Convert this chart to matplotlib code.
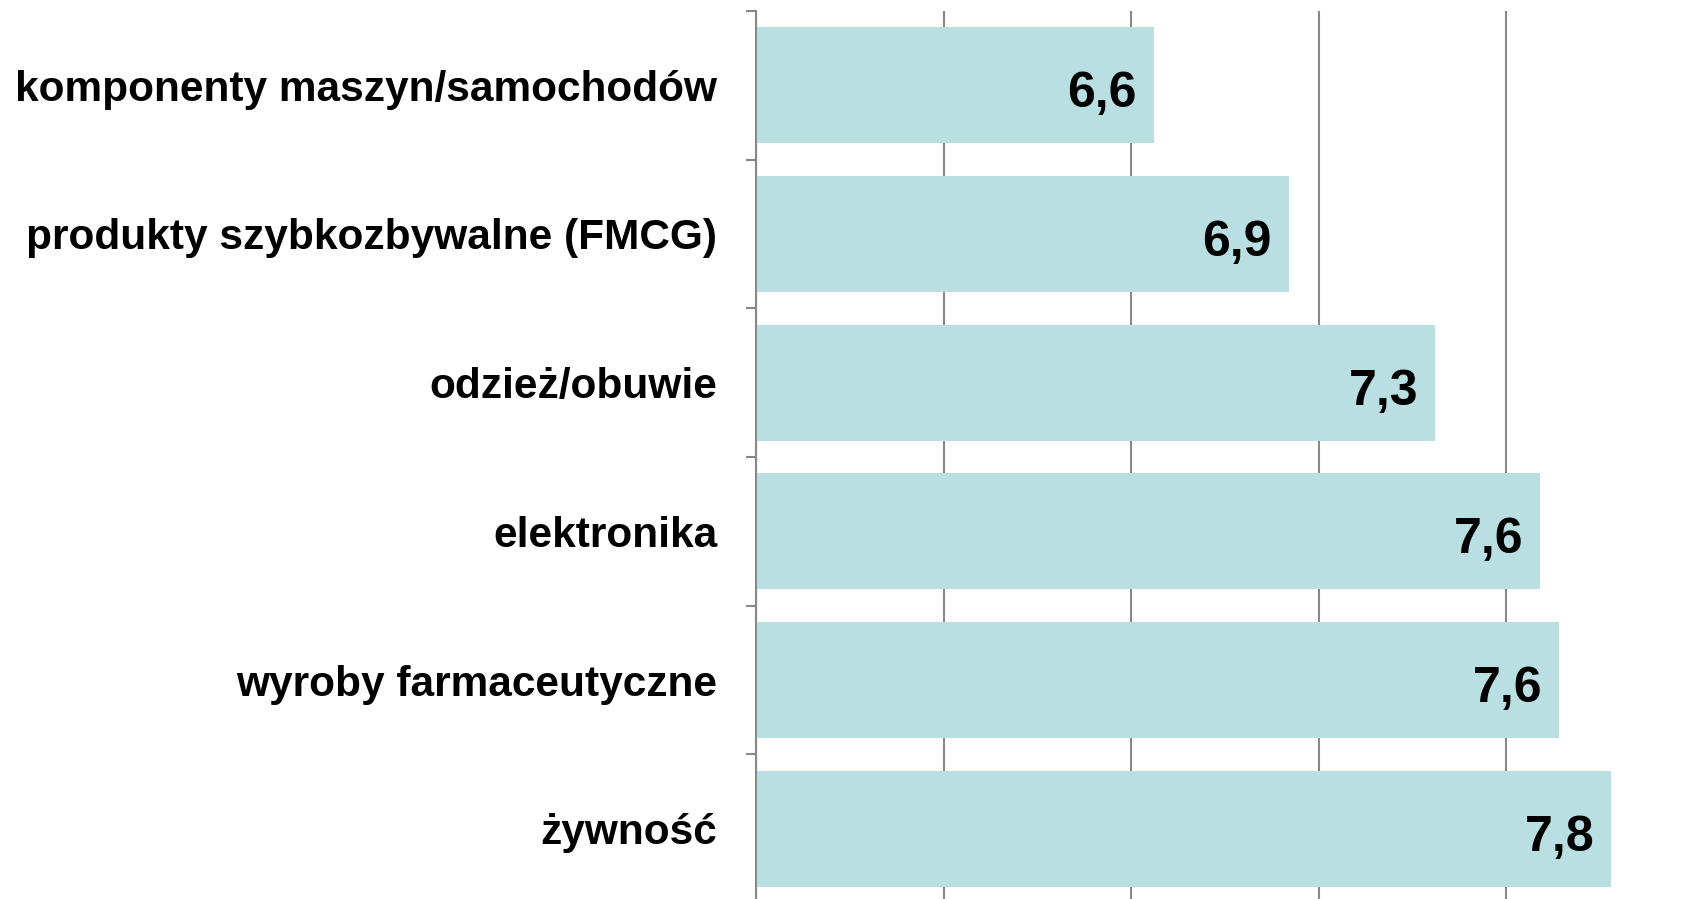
import numpy as np
import matplotlib.pyplot as plt

plt.rcParams['font.family'] = ['Liberation Sans', 'DejaVu Sans']

categories = ['komponenty maszyn/samochodów', 'produkty szybkozbywalne (FMCG)',
              'odzież/obuwie', 'elektronika', 'wyroby farmaceutyczne', 'żywność']
values = [6.56, 6.92, 7.31, 7.59, 7.64, 7.78]
labels = ['6,6', '6,9', '7,3', '7,6', '7,6', '7,8']

fig = plt.figure(figsize=(16.82, 8.99), dpi=100)
ax = fig.add_axes([0.4495, -0.0045, 0.5574, 0.9923])

y = np.arange(len(categories))
base = 5.5
ax.barh(y, np.array(values) - base, left=base, height=0.78,
        color='#badfe3', zorder=2)

# value labels inside the bar ends
for yi, v, lab in zip(y, values, labels):
    ax.annotate(lab, (v, yi), xytext=(-12, -15.8), textcoords='offset points',
                ha='right', va='baseline', fontsize=36, fontweight='bold', zorder=3)

ax.set_xlim(5.5, 8.0)
ax.set_ylim(len(categories) - 0.5, -0.5)
ax.set_xticks(np.arange(5.5, 8.01, 0.5))
ax.set_xticklabels([])
ax.tick_params(axis='x', length=0)
ax.grid(axis='x', color='#888888', linewidth=1.5, zorder=1)

ax.set_yticks(y)
ax.set_yticklabels(categories, fontsize=30.5, fontweight='bold')
ax.tick_params(axis='y', which='major', length=0, pad=28)
ax.set_yticks(np.arange(-0.5, len(categories), 1.0), minor=True)
ax.tick_params(axis='y', which='minor', length=7, width=1.5, color='#888888')

for s in ['top', 'right', 'bottom']:
    ax.spines[s].set_visible(False)
ax.spines['left'].set_color('#888888')
ax.spines['left'].set_linewidth(1.5)
ax.spines['left'].set_zorder(4)

fig.savefig('out.png', dpi=100)
